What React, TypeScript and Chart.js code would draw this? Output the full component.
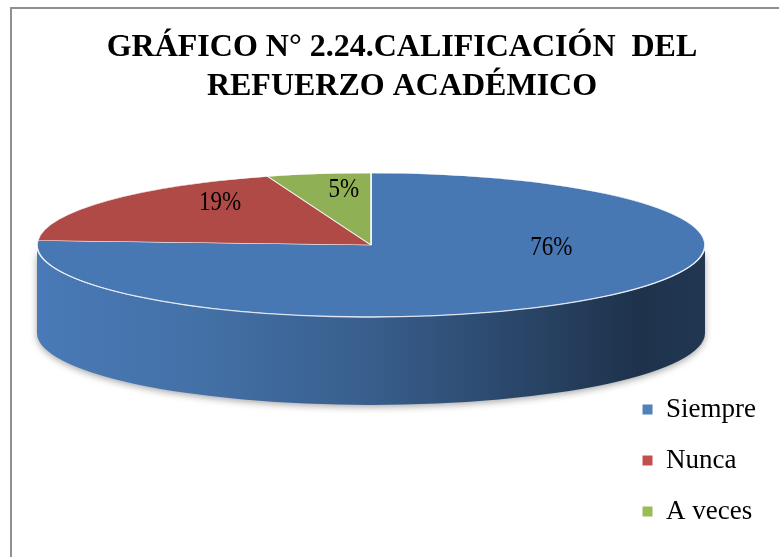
import React, { useEffect, useRef } from "react";
import { Chart, registerables } from "chart.js";

Chart.register(...registerables);

// ---- data ----
const CATEGORIES = ["Siempre", "Nunca", "A veces"];
const PERCENTAGES = [76, 19, 5];
const TITLE_LINES = ["GRÁFICO N° 2.24.CALIFICACIÓN  DEL", "REFUERZO ACADÉMICO"];

// ---- styles ----
const TOP_COLORS = ["#4878b3", "#b04a47", "#8fb055"];
const LEGEND_COLORS = ["#4f81bd", "#c0504d", "#9bbb59"];
const VIEW = { cx: 371, cy: 245, rx: 334, ry: 72, depth: 88 };
const SERIF = "'Liberation Serif', 'Times New Roman', serif";

function shade(hex: string, k: number): string {
  const n = parseInt(hex.slice(1), 16);
  const r = Math.min(255, Math.round(((n >> 16) & 255) * k));
  const g = Math.min(255, Math.round(((n >> 8) & 255) * k));
  const b = Math.min(255, Math.round((n & 255) * k));
  return `rgb(${r},${g},${b})`;
}

const pie3d = {
  id: "pie3d",
  beforeDraw(chart: any) {
    const ctx = chart.ctx;
    ctx.save();
    ctx.strokeStyle = "#8f8f8f";
    ctx.lineWidth = 2;
    ctx.beginPath();
    ctx.moveTo(11, 557);
    ctx.lineTo(11, 8);
    ctx.lineTo(779, 8);
    ctx.stroke();
    ctx.restore();
  },
  beforeDatasetsDraw(chart: any) {
    const ctx = chart.ctx;
    const meta = chart.getDatasetMeta(0);
    const { cx, cy, rx, ry, depth } = VIEW;
    meta.data.forEach((arc: any, i: number) => {
      const p = arc.getProps(["startAngle", "endAngle"], true);
      for (let k = -1; k <= 1; k++) {
        const lo = Math.max(p.startAngle, 2 * Math.PI * k);
        const hi = Math.min(p.endAngle, 2 * Math.PI * k + Math.PI);
        if (hi <= lo) continue;
        const a0 = lo - 2 * Math.PI * k;
        const a1 = hi - 2 * Math.PI * k;
        ctx.save();
        ctx.beginPath();
        ctx.ellipse(cx, cy, rx, ry, 0, a0, a1, false);
        ctx.ellipse(cx, cy + depth, rx, ry, 0, a1, a0, true);
        ctx.closePath();
        const base = TOP_COLORS[i];
        const g = ctx.createLinearGradient(cx - rx, 0, cx + rx, 0);
        g.addColorStop(0, shade(base, 1.02));
        g.addColorStop(0.25, shade(base, 0.93));
        g.addColorStop(0.5, shade(base, 0.78));
        g.addColorStop(0.75, shade(base, 0.56));
        g.addColorStop(0.9, shade(base, 0.42));
        g.addColorStop(1, shade(base, 0.46));
        ctx.fillStyle = g;
        ctx.shadowColor = "rgba(0,0,0,0.35)";
        ctx.shadowBlur = 7;
        ctx.shadowOffsetY = 2;
        ctx.fill();
        ctx.restore();
      }
    });
    const el = meta.data[0];
    const r = el.outerRadius;
    ctx.save();
    ctx.translate(cx, cy);
    ctx.scale(rx / r, ry / r);
    ctx.translate(-el.x, -el.y);
  },
  afterDatasetsDraw(chart: any) {
    const ctx = chart.ctx;
    ctx.restore();
    const { cx, cy, rx, ry } = VIEW;
    // rim highlight
    ctx.save();
    ctx.strokeStyle = "rgba(235,240,248,0.85)";
    ctx.lineWidth = 1.3;
    ctx.beginPath();
    ctx.ellipse(cx, cy, rx, ry, 0, 0.02, Math.PI - 0.02, false);
    ctx.stroke();
    ctx.restore();
    // labels
    const meta = chart.getDatasetMeta(0);
    const total = PERCENTAGES.reduce((a, b) => a + b, 0);
    meta.data.forEach((arc: any, i: number) => {
      const p = arc.getProps(["startAngle", "endAngle"], true);
      const mid = (p.startAngle + p.endAngle) / 2;
      const f = 0.5 + 0.38 * (PERCENTAGES[i] / total);
      const x = cx + f * rx * Math.cos(mid);
      const y = cy + 0.467 * ry * Math.sin(mid) - 21.7;
      ctx.save();
      ctx.translate(x, y);
      ctx.scale(1, 1.2);
      ctx.fillStyle = "#000";
      ctx.font = `23px ${SERIF}`;
      ctx.textAlign = "center";
      ctx.textBaseline = "middle";
      ctx.fillText(`${PERCENTAGES[i]}%`, 0, 0);
      ctx.restore();
    });
  },
};

export default function App() {
  const ref = useRef<HTMLCanvasElement | null>(null);
  useEffect(() => {
    if (!ref.current) return;
    const chart = new Chart(ref.current, {
      type: "pie",
      data: {
        labels: CATEGORIES,
        datasets: [
          {
            data: PERCENTAGES,
            backgroundColor: TOP_COLORS,
            borderColor: "rgba(255,255,255,0.85)",
            borderWidth: 1.1,
            clip: false,
          } as any,
        ],
      },
      options: {
        responsive: false,
        animation: false,
        devicePixelRatio: 1,
        layout: { padding: { left: 38, right: 13, top: 0, bottom: 8 } },
        plugins: {
          tooltip: { enabled: false },
          title: {
            display: true,
            text: TITLE_LINES,
            color: "#000",
            font: { family: SERIF, size: 32, weight: "bold", lineHeight: 1.2 },
            padding: { top: 29, bottom: 10 },
          },
          legend: {
            position: "right",
            align: "end",
            labels: {
              boxWidth: 10,
              boxHeight: 10,
              padding: 24,
              color: "#000",
              font: { family: SERIF, size: 27 },
              generateLabels: () =>
                CATEGORIES.map((c, i) => ({
                  text: c,
                  fillStyle: LEGEND_COLORS[i],
                  strokeStyle: LEGEND_COLORS[i],
                  lineWidth: 0,
                  hidden: false,
                  index: i,
                  datasetIndex: 0,
                })),
            },
          },
        },
      } as any,
      plugins: [pie3d],
    });
    return () => chart.destroy();
  }, []);
  return (
    <div>
      <canvas
        ref={ref}
        width={779}
        height={557}
        style={{ position: "absolute", left: 0, top: 0, display: "block" }}
      />
    </div>
  );
}
